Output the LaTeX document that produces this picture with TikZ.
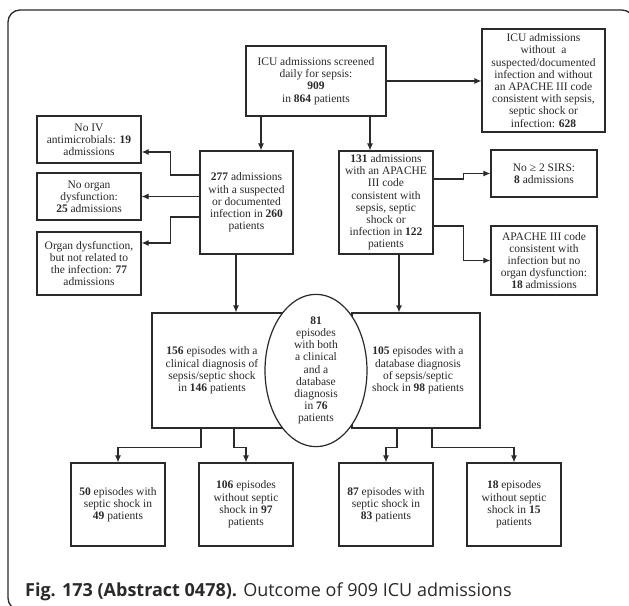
\documentclass[tikz,border=0pt]{standalone}
\usepackage{fontspec}
\setmainfont{Liberation Serif}
\newfontfamily\capfont{Open Sans}
\usetikzlibrary{arrows.meta,shapes.geometric}
\definecolor{ink}{HTML}{2A2A2A}
\begin{document}
\begin{tikzpicture}[x=1pt,y=-1pt,
  txt/.style={font=\fontsize{11.5}{12.2}\selectfont,text=ink},
  box/.style={draw=ink,line width=1.2pt,fill=white,inner sep=0pt,align=center,txt},
  arr/.style={draw=ink,line width=1.2pt,-{Latex[length=7pt,width=6pt]}},
  lin/.style={draw=ink,line width=1.2pt}]
\useasboundingbox (0,0) rectangle (629,605);
\clip (0,0) rectangle (629,605);
\fill[white] (0,0) rectangle (629,605);
\draw[ink,line width=1.3pt,rounded corners=12pt] (8,10) rectangle (634,610);

% top row
\node[box,minimum width=140pt,minimum height=70pt] (top) at (316,81)
  {ICU admissions screened\\daily for sepsis:\\\textbf{909}\\in \textbf{864} patients};
\node[box,minimum width=123pt,minimum height=103pt] (topright) at (543.5,80.5)
  {ICU admissions\\without\ \ a\\suspected/documented\\infection and without\\an APACHE III code\\consistent with sepsis,\\septic shock or\\infection: \textbf{628}};

% left column
\node[box,minimum width=104pt,minimum height=47pt] (noiv) at (89,139.5)
  {No IV\\antimicrobials: \textbf{19}\\admissions};
\node[box,minimum width=104pt,minimum height=47pt] (noorg) at (89,196.5)
  {No organ\\dysfunction:\\\textbf{25} admissions};
\node[box,minimum width=104pt,minimum height=63pt] (orgdys) at (89,263.5)
  {Organ dysfunction,\\but not related to\\the infection: \textbf{77}\\admissions};

% middle row
\node[box,minimum width=93pt,minimum height=103pt] (b277) at (246.5,202.5)
  {\textbf{277} admissions\\with a suspected\\or documented\\infection in \textbf{260}\\patients};
\node[box,minimum width=94pt,minimum height=103pt] (b131) at (386,202.5)
  {\textbf{131} admissions\\with an APACHE\\III code\\consistent with\\sepsis, septic\\shock or\\infection in \textbf{122}\\patients};

% right column
\node[box,minimum width=106pt,minimum height=47pt] (sirs) at (544,173.5)
  {No ≥ 2 SIRS:\\\textbf{8} admissions};
\node[box,minimum width=106pt,minimum height=69pt] (apache) at (544,260.5)
  {APACHE III code\\consistent with\\infection but no\\organ dysfunction:\\\textbf{18} admissions};

% big boxes
\node[box,minimum width=132pt,minimum height=115pt,
  label={[xshift=-6pt,align=center,txt]center:{\textbf{156} episodes with a\\clinical diagnosis of\\sepsis/septic shock\\in \textbf{146} patients}}]
  (leftbig) at (218,370.5) {};
\node[box,minimum width=128pt,minimum height=115pt,
  label={[xshift=2pt,align=center,txt]center:{\textbf{105} episodes with a\\database diagnosis\\of sepsis/septic\\shock in \textbf{98} patients}}]
  (rightbig) at (416,370.5) {};
\node[box,ellipse,minimum width=102pt,minimum height=139pt] (both) at (316,370.5)
  {\textbf{81}\\episodes\\with both\\a clinical\\and a\\database\\diagnosis\\in \textbf{76}\\patients};

% bottom row
\node[box,minimum width=94pt,minimum height=83pt] (bl1) at (118,504.5)
  {\textbf{50} episodes with\\septic shock in\\\textbf{49} patients};
\node[box,minimum width=94pt,minimum height=83pt] (bl2) at (246,504.5)
  {\textbf{106} episodes\\without septic\\shock in \textbf{97}\\patients};
\node[box,minimum width=94pt,minimum height=83pt] (br1) at (386,504.5)
  {\textbf{87} episodes with\\septic shock in\\\textbf{83} patients};
\node[box,minimum width=94pt,minimum height=83pt] (br2) at (514,504.5)
  {\textbf{18} episodes\\without septic\\shock in \textbf{15}\\patients};

% connectors
\draw[arr] (top.east) -- (top.east -| topright.west);
\draw[arr] ([xshift=-55pt]top.south) coordinate (t1) -- (t1 |- b277.north);
\draw[arr] ([xshift=54pt]top.south) coordinate (t2) -- (t2 |- b131.north);

\draw[arr] ([yshift=27.5pt]b277.west) -- ++(-29,0) |- ([yshift=-12.5pt]noiv.east);
\draw[arr] (b277.west |- noorg.east) -- (noorg.east);
\draw[arr] ([yshift=-14.5pt]b277.west) -- ++(-29,0) |- ([yshift=20.5pt]orgdys.east);

\draw[arr] ([yshift=23.5pt]b131.east) -- ++(30,0) |- (sirs.west);
\draw[arr] ([yshift=-23.5pt]b131.east) -- ++(30,0) |- (apache.west);

\draw[arr] ([xshift=-10.5pt]b277.south) coordinate (d1) -- (d1 |- leftbig.north);
\draw[arr] ([xshift=13pt]b131.south) coordinate (d2) -- (d2 |- rightbig.north);

\draw[arr] ([xshift=-17pt]leftbig.south) -- ++(0,19) -| (bl1.north);
\draw[arr] ([xshift=16pt]leftbig.south) -- ++(0,19) -| (bl2.north);
\draw[arr] ([xshift=-19pt]rightbig.south) -- ++(0,19) -| (br1.north);
\draw[arr] ([xshift=16pt]rightbig.south) -- ++(0,19) -| (br2.north);

% caption
\node[anchor=base west,inner sep=0pt,text=ink,font=\capfont\fontsize{18}{21}\selectfont] (cap) at (25,596)
  {\textbf{Fig. 173 (Abstract 0478).} Outcome of 909 ICU admissions};
\end{tikzpicture}
\end{document}
